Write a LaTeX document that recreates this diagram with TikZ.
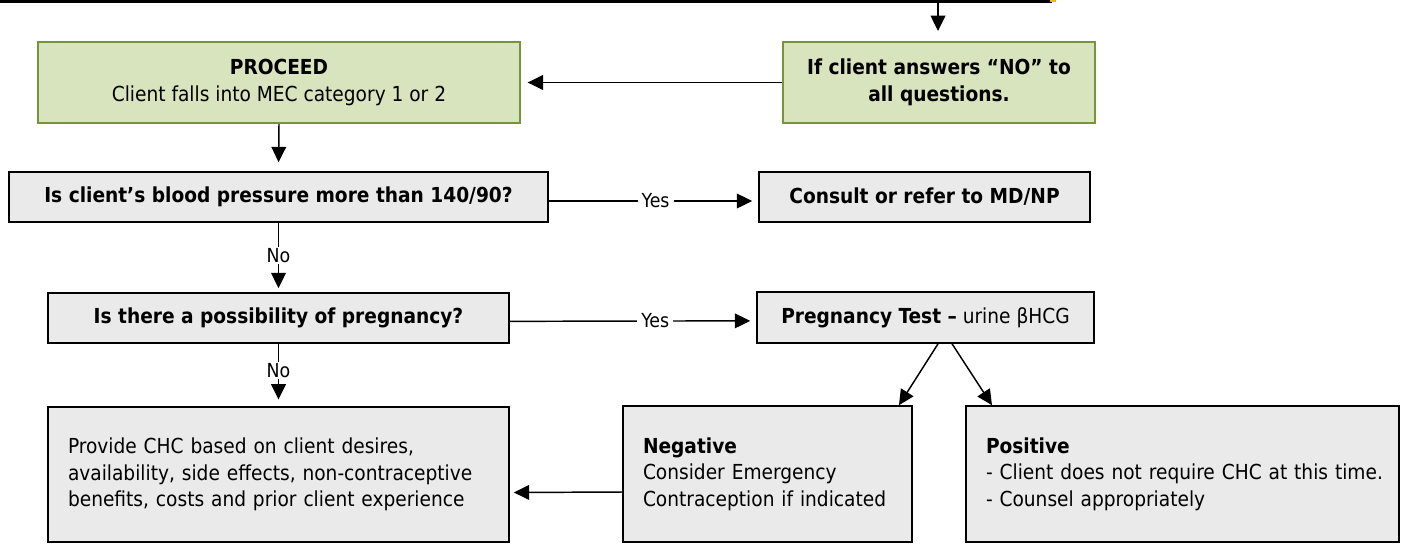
\documentclass[tikz,border=0pt]{standalone}
\usepackage{fontspec}
\setmainfont{DejaVu Sans Condensed}
\usetikzlibrary{arrows.meta}
\definecolor{grf}{HTML}{D7E4BD}
\definecolor{grb}{HTML}{77933C}
\definecolor{gry}{HTML}{EAEAEA}
\definecolor{orng}{HTML}{F5B800}
\tikzset{
  txt/.style={font=\fontsize{15.5pt}{20pt}\selectfont},
  gbox/.style={txt, draw=grb, fill=grf, line width=1.5pt, align=center, inner sep=0pt},
  qbox/.style={txt, draw=black, fill=gry, line width=1.2pt, align=center, inner sep=0pt},
  tbox/.style={txt, draw=black, fill=gry, line width=1.2pt, align=left, inner xsep=15pt, inner ysep=0pt},
  arr/.style={line width=1.1pt, -{Triangle[width=11pt,length=11.5pt]}},
  lab/.style={font=\fontsize{14.5pt}{18pt}\selectfont, fill=white, inner xsep=3pt, inner ysep=1pt}
}
\begin{document}
\begin{tikzpicture}[x=0.75pt,y=-0.75pt]
\useasboundingbox (0,0) rectangle (1408,550);
% top border line
\coordinate (tl) at (0,1.2);
\coordinate (tr) at (1052,1.2);
\coordinate (topc) at (938,1);
\draw[line width=2.2pt] (tl) -- (tr);
\fill[orng] (1050,0) rectangle (1056,2);
% nodes
\node[gbox, minimum width=361.5pt, minimum height=60.75pt] (proceed) at (279,82.5)
  {\textbf{PROCEED}\\Client falls into MEC category 1 or 2};
\node[gbox, minimum width=234pt, minimum height=60.75pt] (ifno) at (939,82.5)
  {\textbf{If client answers “NO” to}\\\textbf{all questions.}};
\node[qbox, minimum width=404.25pt, minimum height=37.5pt] (bp) at (278.5,197)
  {\textbf{Is client’s blood pressure more than 140/90?}};
\node[qbox, minimum width=248.25pt, minimum height=37.5pt] (consult) at (924.5,197)
  {\textbf{Consult or refer to MD/NP}};
\node[qbox, minimum width=345.75pt, minimum height=37.5pt] (preg) at (278.5,318)
  {\textbf{Is there a possibility of pregnancy?}};
\node[qbox, minimum width=252.75pt, minimum height=38.25pt] (ptest) at (925.5,317.5)
  {\textbf{Pregnancy Test –} urine βHCG};
\node[tbox, text width=315.75pt, minimum height=101.25pt] (provide) at (278.5,474.5)
  {\mbox{Provide CHC based on client desires,}\\\mbox{availability, side effects, non-contraceptive}\\\mbox{benefits, costs and prior client experience}};
\node[tbox, text width=186.75pt, minimum height=102pt] (negative) at (767.5,474)
  {\textbf{Negative}\\\mbox{Consider Emergency}\\\mbox{Contraception if indicated}};
\node[tbox, text width=294.75pt, minimum height=102pt] (positive) at (1182.5,474)
  {\textbf{Positive}\\\mbox{- Client does not require CHC at this time.}\\\mbox{- Counsel appropriately}};
% connectors
\draw[arr, shorten >=7.5pt] (topc) -- (ifno.north -| topc);
\draw[arr, shorten >=5pt] (ifno.west) -- (proceed.east);
\draw[arr, shorten >=6.75pt] (proceed.south) -- (bp.north);
\draw[arr, shorten >=4.5pt] ([yshift=-3pt]bp.east) -- node[lab, pos=0.51] {Yes} ([yshift=-3pt]consult.west);
\draw[arr, shorten >=3pt] (bp.south) -- node[lab, pos=0.47] {No} (preg.north);
\draw[arr, shorten >=4.5pt] ([yshift=-2.5pt]preg.east) -- node[lab, pos=0.59] {Yes} ([yshift=-2.5pt]ptest.west);
\draw[arr, shorten >=5pt] (preg.south) -- node[lab, pos=0.43] {No} (provide.north);
\draw[arr] ([xshift=9.4pt]ptest.south) -- ([xshift=98.6pt]negative.north);
\draw[arr] ([xshift=19.9pt]ptest.south) -- ([xshift=-142.9pt]positive.north);
\draw[arr, shorten >=3pt] ([yshift=-13.5pt]negative.west) -- ([yshift=-13.5pt]provide.east);
\end{tikzpicture}
\end{document}
